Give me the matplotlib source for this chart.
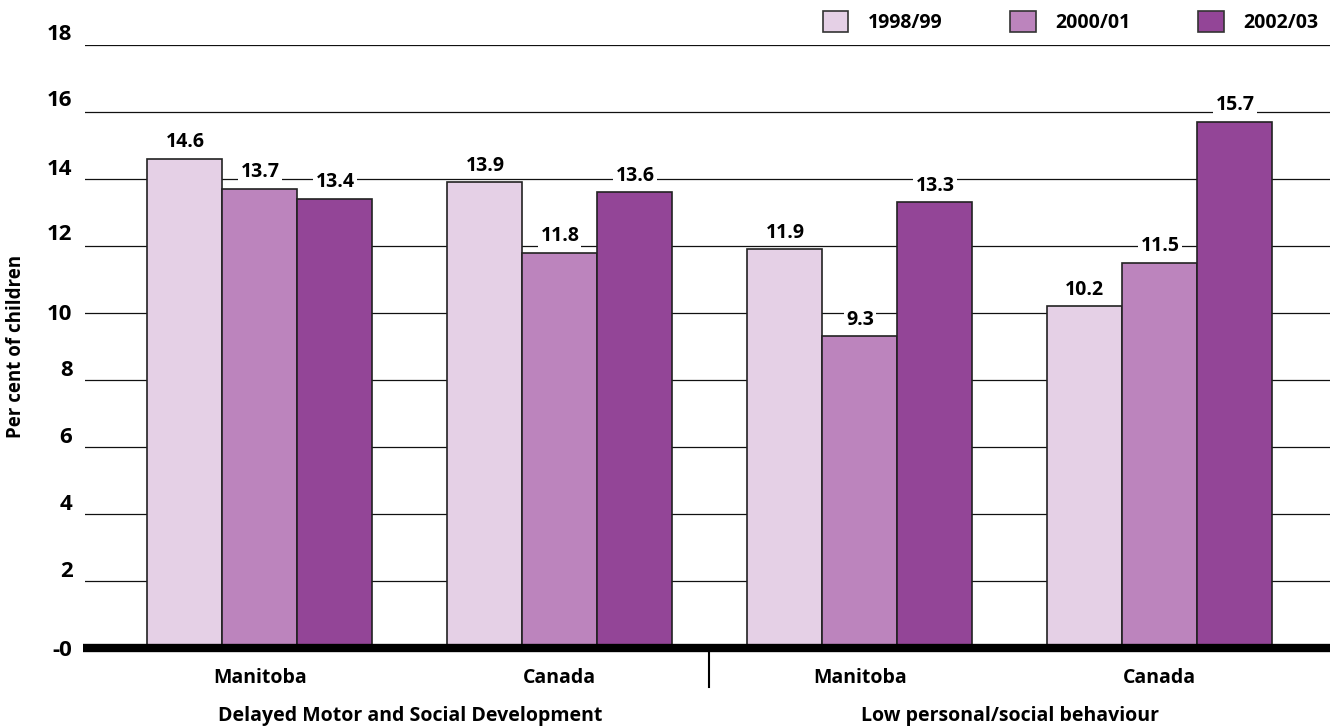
import matplotlib.pyplot as plt
import matplotlib.transforms as mtransforms
from matplotlib.patches import Patch
import numpy as np

plt.rcParams['font.family'] = ['Open Sans', 'DejaVu Sans']
plt.rcParams['font.weight'] = 'bold'

groups = ['Delayed Motor and Social Development', 'Low personal/social behaviour']
regions = ['Manitoba', 'Canada', 'Manitoba', 'Canada']
years = ['1998/99', '2000/01', '2002/03']
v1998 = [14.6, 13.9, 11.9, 10.2]
v2000 = [13.7, 11.8, 9.3, 11.5]
v2002 = [13.4, 13.6, 13.3, 15.7]
colors = ['#E5D0E6', '#BC84BD', '#934597']

yticks = [0, 2, 4, 6, 8, 10, 12, 14, 16, 18]
ytick_labels = ['-0', '2', '4', '6', '8', '10', '12', '14', '16', '18']

fig = plt.figure(figsize=(13.41, 7.27), dpi=100)
ax = fig.add_axes([85 / 1341, 79 / 727, 1245 / 1341, 603 / 727])

x = np.arange(len(regions))
w = 0.25
for i, (vals, c) in enumerate(zip([v1998, v2000, v2002], colors)):
    bars = ax.bar(x + (i - 1) * w, vals, w, color=c, edgecolor='#222222',
                  linewidth=1.2, zorder=3)
    for b, v in zip(bars, vals):
        ax.text(b.get_x() + b.get_width() / 2, v + 0.2, f'{v:.1f}',
                ha='center', va='bottom', fontsize=14, fontweight='bold', zorder=4,
                bbox=dict(facecolor='white', edgecolor='none', pad=1.5))

ax.set_xlim(-0.583, 3.567)
ax.set_ylim(0, 18)

# horizontal rules behind the bars, heavy baseline at zero
for t in yticks[1:]:
    ax.axhline(t, color='#111111', lw=0.9, zorder=1)
ax.axhline(0, xmin=-0.002, xmax=1.0, color='black', lw=6, zorder=5,
           clip_on=False, solid_capstyle='butt')

for s in ax.spines.values():
    s.set_visible(False)
ax.set_xticks([])
ax.set_yticks(yticks)
ax.set_yticklabels(ytick_labels, fontsize=16, fontweight='bold')
ax.tick_params(axis='y', length=0, pad=9)
offsets = [0, 12, 12, 12, 12, 1, 14, 12, 14, 13]
for lab, dy in zip(ax.get_yticklabels(), offsets):
    lab.set_transform(lab.get_transform() +
                      mtransforms.ScaledTranslation(0, dy / 100, fig.dpi_scale_trans))

ax.set_ylabel('Per cent of children', fontsize=13.5, fontweight='bold')
ax.yaxis.set_label_coords(-0.047, 0.5)

trans = ax.get_xaxis_transform()
for xi, r in zip(x, regions):
    ax.text(xi, -0.05, r, transform=trans, ha='center', va='center',
            fontsize=14, fontweight='bold')
ax.text(0.5, -0.112, groups[0], transform=trans, ha='center', va='center',
        fontsize=14, fontweight='bold')
ax.text(2.5, -0.112, groups[1], transform=trans, ha='center', va='center',
        fontsize=14, fontweight='bold')
ax.plot([1.497, 1.497], [-0.007, -0.065], transform=trans, color='black',
        lw=1.5, clip_on=False)

handles = [Patch(facecolor=c, edgecolor='#333333', linewidth=1.2) for c in colors]
ax.legend(handles, years, ncol=3, loc='lower right', bbox_to_anchor=(1.0, 1.0),
          frameon=False, prop={'size': 14, 'weight': 'bold'},
          handlelength=1.3, handleheight=1.3,
          columnspacing=3.5, handletextpad=1.0, borderaxespad=0.2)

fig.savefig('out.png', dpi=100)
